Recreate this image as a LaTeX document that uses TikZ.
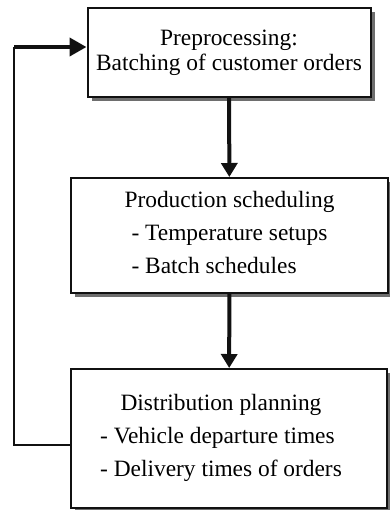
\documentclass[tikz,border=0pt]{standalone}
\usepackage{fontspec}
\setmainfont{Liberation Serif}
\usepackage{tikz}
\usetikzlibrary{arrows.meta,positioning,calc,shadows}
\definecolor{Ink}{HTML}{111111}
\definecolor{Shade}{HTML}{6E6E6E}
\tikzset{
  >=Triangle,
  stage/.style={rectangle,draw=Ink,line width=1pt,fill=white,inner sep=0pt,
    font=\fontsize{11.7}{12.5}\selectfont,
    drop shadow={shadow xshift=2.2pt,shadow yshift=-2.2pt,fill=Shade,opacity=1}},
  flow/.style={-{Triangle[width=8pt,length=7pt]},line width=2pt,draw=Ink},
  backline/.style={line width=1pt,draw=Ink},
  backarrow/.style={-{Triangle[width=9pt,length=8.5pt]},line width=2pt,draw=Ink}
}

\begin{document}
\begin{tikzpicture}[x=0.5pt,y=-0.5pt]
    \useasboundingbox (0,0) rectangle (390,510);
    \node[stage,minimum width=141.5pt,minimum height=44.5pt,align=center] (pre) at (229,52.5)
      {Preprocessing:\\Batching of customer orders};
    \node[stage,minimum width=158.5pt,minimum height=57.5pt] (prod) at (229.5,235.5)
      {\begin{tabular}{@{}c@{}}Production scheduling\\[4pt]
       \begin{tabular}{@{}l@{}}- Temperature setups\\[4pt] - Batch schedules\end{tabular}\end{tabular}};
    \node[stage,minimum width=158pt,minimum height=69.5pt] (dist) at (229,438.5)
      {\begin{tabular}{@{}c@{}}Distribution planning\\[4pt]
       \begin{tabular}{@{}l@{}}- Vehicle departure times\\[4pt] - Delivery times of orders\end{tabular}\end{tabular}\hspace*{8pt}};
    \coordinate (back) at (14,47);
    % main flow
    \draw[flow] (pre)--(prod);
    \draw[flow] (prod)--(dist);
    % feedback loop
    \draw[backline] ([yshift=-3.25pt]dist.west) -| (back);
    \draw[backarrow] (back)--(back -| pre.west);
  \end{tikzpicture}
\end{document}
